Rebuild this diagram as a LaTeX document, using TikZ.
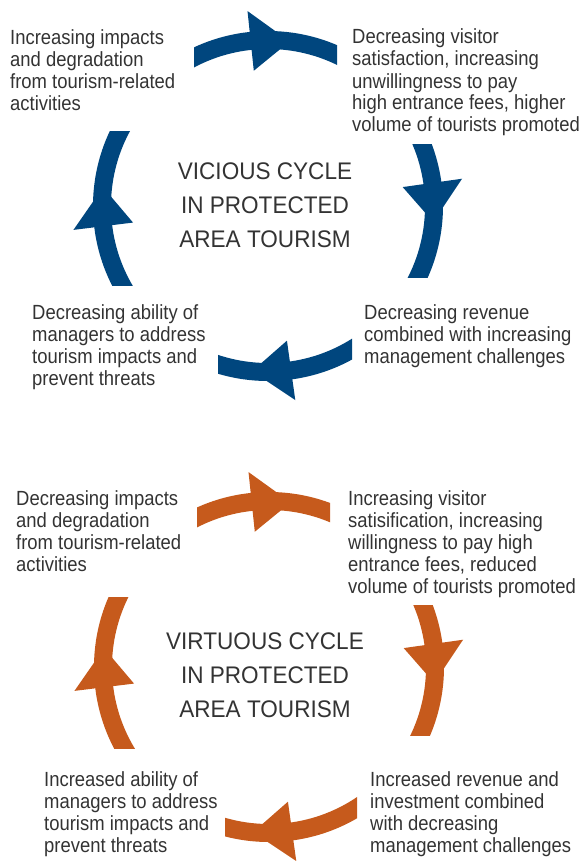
\documentclass[tikz,border=0pt]{standalone}
\usepackage{fontspec}
\setmainfont{Liberation Sans}[FakeStretch=0.9]
\newfontfamily\titlefont{Liberation Sans}[FakeStretch=0.94]
\definecolor{viciousblue}{HTML}{00467E}
\definecolor{virtuousorange}{HTML}{C65A1C}
\definecolor{txtgray}{HTML}{333333}
\begin{document}
\begin{tikzpicture}[x=1pt,y=-1pt,
    txt/.style={anchor=base west,align=left,inner sep=0pt,text=txtgray,font=\fontsize{20.5}{22}\selectfont},
    cycletitle/.style={anchor=base,align=center,inner sep=0pt,text=txtgray,font=\titlefont\fontsize{24}{34}\selectfont}]
    \useasboundingbox (0,0) rectangle (583,861);
    % vicious cycle
    \coordinate (vc) at (268,206);
    \foreach \xa/\ya/\xb/\yb in {194/0/337/120, 350/145/583/277, 218/300/352/430, 0/132/190/285}{
        \begin{scope}
            \clip (\xa,\ya) rectangle (\xb,\yb);
            \draw[viciousblue,line width=18pt] (vc) circle[radius=166];
        \end{scope}
    }
    \foreach \a in {264,352,82,173}
        \fill[viciousblue,shift={(vc)}] (\a:136) -- (\a:196) -- (\a+13.5:166) -- cycle;
    % base = last line of each text
    \node[txt] (vimpacts) at (10,111) {Increasing impacts\\and degradation\\from tourism-related\\activities};
    \node[txt] (vvisitors) at (352,132) {Decreasing visitor\\satisfaction, increasing\\unwillingness to pay\\high entrance fees, higher\\volume of tourists promoted};
    \node[txt] (vrevenue) at (364,363) {Decreasing revenue\\combined with increasing\\management challenges};
    \node[txt] (vability) at (32,385) {Decreasing ability of\\managers to address\\tourism impacts and\\prevent threats};
    \node[cycletitle] (vtitle) at (265,247) {VICIOUS CYCLE\\IN PROTECTED\\AREA TOURISM};
    % virtuous cycle
    \coordinate (gc) at (269,667);
    \foreach \xa/\ya/\xb/\yb in {197/440/330/580, 350/605/583/735, 225/760/357/861, 0/597/190/748}{
        \begin{scope}
            \clip (\xa,\ya) rectangle (\xb,\yb);
            \draw[virtuousorange,line width=18pt] (gc) circle[radius=166];
        \end{scope}
    }
    \foreach \a in {264,352,82,173}
        \fill[virtuousorange,shift={(gc)}] (\a:136) -- (\a:196) -- (\a+13.5:166) -- cycle;
    \node[txt] (gimpacts) at (16,571) {Decreasing impacts\\and degradation\\from tourism-related\\activities};
    \node[txt] (gvisitors) at (348,593) {Increasing visitor\\satisification, increasing\\willingness to pay high\\entrance fees, reduced\\volume of tourists promoted};
    \node[txt] (grevenue) at (370,852) {Increased revenue and\\investment combined\\with decreasing\\management challenges};
    \node[txt] (gability) at (44,852) {Increased ability of\\managers to address\\tourism impacts and\\prevent threats};
    \node[cycletitle] (gtitle) at (265,717) {VIRTUOUS CYCLE\\IN PROTECTED\\AREA TOURISM};
\end{tikzpicture}
\end{document}
